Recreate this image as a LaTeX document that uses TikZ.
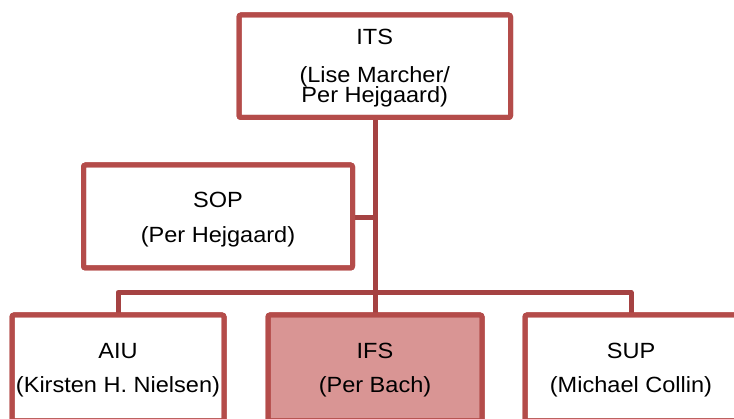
\documentclass[tikz,border=0pt]{standalone}
\usepackage{fontspec}
\setmainfont{Liberation Sans}[FakeStretch=1.07]
\definecolor{boxline}{RGB}{180,76,74}
\definecolor{conline}{RGB}{165,66,66}
\definecolor{ifsfill}{RGB}{217,149,148}
\begin{document}
\begin{tikzpicture}[x=1pt,y=1pt,
  orgbox/.style={draw=boxline, line width=5pt, rounded corners=2pt, fill=white,
    inner sep=0pt, outer sep=0pt, minimum height=#1},
  orgbox/.default=103pt,
  lbl/.style={anchor=base, inner sep=0pt, font=\fontsize{22}{22}\selectfont},
  conn/.style={draw=conline, line width=5pt, line join=round}]
\useasboundingbox (0,0) rectangle (734,419);
\clip (0,0) rectangle (734,419);
\fill[white] (0,0) rectangle (734,419);
% connectors
\coordinate (trunkTop) at (375,301.5);
% boxes
\node[orgbox=102.5pt, minimum width=271.5pt] (ITS) at (374.75,352.75) {};
\node[orgbox=103pt, minimum width=269pt] (SOP) at (218,202.5) {};
\node[orgbox=106pt, minimum width=212pt] (AIU) at (118,51) {};
\node[orgbox=106pt, minimum width=214pt, fill=ifsfill] (IFS) at (375,51) {};
\node[orgbox=106pt, minimum width=212pt] (SUP) at (631,51) {};
% connectors drawn from node to node
\begin{scope}[on background layer/.try]
\end{scope}
\draw[conn] (ITS.south -| IFS.north) -- (IFS.north);
\draw[conn] ([yshift=-1.5pt]SOP.east) -- ([yshift=-1.5pt]SOP.east -| IFS.north);
\draw[conn] (AIU.north) -- ++(0,22.5) -| (SUP.north);
% redraw box borders on top of connector ends
\node[orgbox=102.5pt, minimum width=271.5pt, fill=none] (ITSb) at (ITS) {};
\node[orgbox=103pt, minimum width=269pt, fill=none] (SOPb) at (SOP) {};
\node[orgbox=106pt, minimum width=212pt, fill=none] (AIUb) at (AIU) {};
\node[orgbox=106pt, minimum width=214pt, fill=none] (IFSb) at (IFS) {};
\node[orgbox=106pt, minimum width=212pt, fill=none] (SUPb) at (SUP) {};
% texts
\node[lbl] (t1) at (374.75,374) {ITS};
\node[lbl] (t2) at (374.75,336) {(Lise Marcher/};
\node[lbl] (t3) at (374.75,316) {Per Hejgaard)};
\node[lbl] (t4) at (218,211) {SOP};
\node[lbl] (t5) at (218,176) {(Per Hejgaard)};
\node[lbl] (t6) at (118,60) {AIU};
\node[lbl] (t7) at (118,26) {(Kirsten H. Nielsen)};
\node[lbl] (t8) at (375,60) {IFS};
\node[lbl] (t9) at (375,26) {(Per Bach)};
\node[lbl] (t10) at (631,60) {SUP};
\node[lbl] (t11) at (631,26) {(Michael Collin)};
\end{tikzpicture}
\end{document}
